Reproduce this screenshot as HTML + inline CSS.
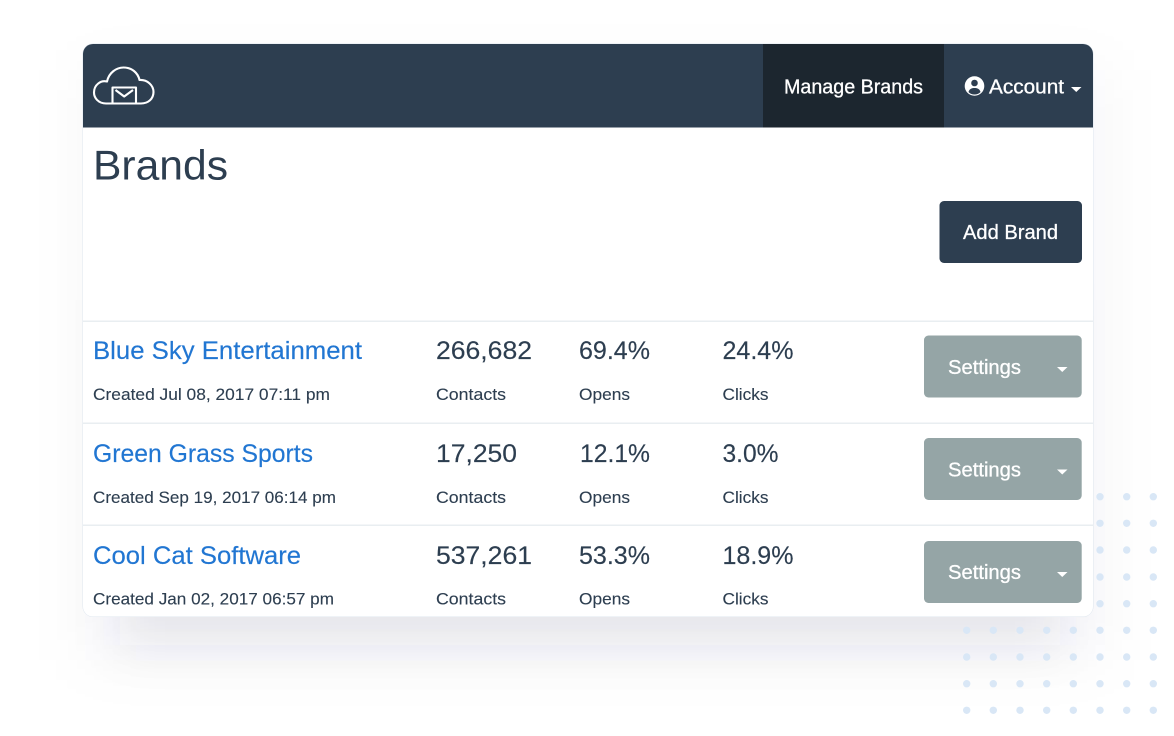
<!DOCTYPE html>
<html lang="en">
<head>
<meta charset="utf-8">
<title>Brands</title>
<style>
html,body{margin:0;padding:0;background:#fff;width:1174px;height:736px;overflow:hidden}
svg{display:block}
text{font-family:"Liberation Sans",sans-serif}
.name{font-size:25px;fill:#2176d2;stroke:#2176d2;stroke-width:.15px}
.num{font-size:25px;fill:#2d3e50;stroke:#2d3e50;stroke-width:.15px}
.sub{font-size:17px;fill:#2d3e50;stroke:#2d3e50;stroke-width:.12px}
.nav{font-size:20px;fill:#fff;stroke:#fff;stroke-width:.3px}
.set{font-size:20px;fill:#fff;stroke:#fff;stroke-width:.3px}
</style>
</head>
<body>
<svg id="stage" xmlns="http://www.w3.org/2000/svg" width="1174" height="736" viewBox="0 0 1174 736">
  <defs>
    <filter id="soft" filterUnits="userSpaceOnUse" x="0" y="0" width="1174" height="736"><feGaussianBlur stdDeviation="24"/></filter>
    <filter id="softwide" filterUnits="userSpaceOnUse" x="0" y="0" width="1174" height="736"><feGaussianBlur stdDeviation="30"/></filter>
    <clipPath id="cardclip"><rect x="83" y="44" width="1010" height="572.500" rx="10"/></clipPath>
  </defs>
  <rect x="85" y="70" width="1020" height="590" fill="#2d3e50" fill-opacity="0.035" filter="url(#softwide)"/>
  <rect x="120" y="300" width="940" height="345" fill="#2d3e50" fill-opacity="0.09" filter="url(#soft)"/>
  <g id="dots"></g>

  <g>
    <rect x="82.500" y="43.500" width="1011" height="573.500" rx="10.500" fill="#dfe7ef"/>
    <g clip-path="url(#cardclip)">
      <rect x="83" y="44" width="1010" height="573" fill="#fff"/>
      <rect x="83" y="44" width="1010" height="83.500" fill="#2d3e50"/>
      <rect x="763" y="44" width="181" height="83.500" fill="#1c262f"/>
      <rect x="83" y="320.500" width="1010" height="1.500" fill="#e9eef1"/>
      <rect x="83" y="422.500" width="1010" height="1.500" fill="#e9eef1"/>
      <rect x="83" y="524.500" width="1010" height="1.500" fill="#e9eef1"/>
    </g>
  </g>

  <g fill="none" stroke="#fff" stroke-width="2.100" stroke-linejoin="round">
    <path d="M106 103.500C98.500 103.500 94 98 94 92.500C94 85 100.500 80 107 81.500C109 72.500 116.500 67.500 123.500 67.500C132 67.500 138 73 139.500 80C147.500 79.500 153.500 85.500 153.500 92C153.500 99 148 103.500 141 103.500Z"/>
    <path d="M112.500 103V87.500H136V103"/>
    <path d="M115.500 90L124.200 96.500L133 90" stroke-width="2.200"/>
  </g>

  <text class="nav" x="784" y="93.500" textLength="139" lengthAdjust="spacingAndGlyphs">Manage Brands</text>
  <g>
    <circle cx="974.500" cy="86" r="9.800" fill="#fff"/>
    <circle cx="974.500" cy="83" r="3.300" fill="#2d3e50"/>
    <path d="M968.500 92C969.500 88.500 972 88 974.500 88C977 88 979.500 88.500 980.500 92C979 93.800 977 94.500 974.500 94.500C972 94.500 970 93.800 968.500 92Z" fill="#2d3e50"/>
  </g>
  <text class="nav" x="989" y="93.500" textLength="75" lengthAdjust="spacingAndGlyphs">Account</text>
  <path d="M1071 87H1081.500L1076.250 92Z" fill="#fff"/>

  <text x="93" y="179.500" font-size="42" fill="#2d3e50" textLength="135" lengthAdjust="spacingAndGlyphs">Brands</text>

  <g>
    <rect x="939.500" y="201" width="142.500" height="62" rx="4.500" fill="#2d3e50"/>
    <text class="nav" x="963" y="239" textLength="95" lengthAdjust="spacingAndGlyphs">Add Brand</text>
  </g>

  <g>
    <text class="name" x="93" y="359" textLength="269" lengthAdjust="spacingAndGlyphs">Blue Sky Entertainment</text>
    <text class="sub" x="93" y="400" textLength="237" lengthAdjust="spacingAndGlyphs">Created Jul 08, 2017 07:11 pm</text>
    <text class="num" x="436" y="359" textLength="96" lengthAdjust="spacingAndGlyphs">266,682</text>
    <text class="sub" x="436" y="400" textLength="70" lengthAdjust="spacingAndGlyphs">Contacts</text>
    <text class="num" x="579" y="359" textLength="71" lengthAdjust="spacingAndGlyphs">69.4%</text>
    <text class="sub" x="579" y="400" textLength="51" lengthAdjust="spacingAndGlyphs">Opens</text>
    <text class="num" x="722.500" y="359" textLength="71" lengthAdjust="spacingAndGlyphs">24.4%</text>
    <text class="sub" x="722.500" y="400" textLength="46" lengthAdjust="spacingAndGlyphs">Clicks</text>
    <g>
      <rect x="924" y="335.500" width="157.700" height="62" rx="4.500" fill="#95a5a6"/>
      <text class="set" x="948" y="374" textLength="73" lengthAdjust="spacingAndGlyphs">Settings</text>
      <path d="M1057 367H1067.500L1062.250 372Z" fill="#fff"/>
    </g>
  </g>

  <g>
    <text class="name" x="93" y="462" textLength="220" lengthAdjust="spacingAndGlyphs">Green Grass Sports</text>
    <text class="sub" x="93" y="503" textLength="243" lengthAdjust="spacingAndGlyphs">Created Sep 19, 2017 06:14 pm</text>
    <text class="num" x="436" y="462" textLength="81" lengthAdjust="spacingAndGlyphs">17,250</text>
    <text class="sub" x="436" y="503" textLength="70" lengthAdjust="spacingAndGlyphs">Contacts</text>
    <text class="num" x="580" y="462" textLength="70" lengthAdjust="spacingAndGlyphs">12.1%</text>
    <text class="sub" x="579" y="503" textLength="51" lengthAdjust="spacingAndGlyphs">Opens</text>
    <text class="num" x="722.500" y="462" textLength="56" lengthAdjust="spacingAndGlyphs">3.0%</text>
    <text class="sub" x="722.500" y="503" textLength="46" lengthAdjust="spacingAndGlyphs">Clicks</text>
    <g>
      <rect x="924" y="438" width="157.700" height="62" rx="4.500" fill="#95a5a6"/>
      <text class="set" x="948" y="476.500" textLength="73" lengthAdjust="spacingAndGlyphs">Settings</text>
      <path d="M1057 469.500H1067.500L1062.250 474.500Z" fill="#fff"/>
    </g>
  </g>

  <g>
    <text class="name" x="93" y="564" textLength="208" lengthAdjust="spacingAndGlyphs">Cool Cat Software</text>
    <text class="sub" x="93" y="604.500" textLength="241" lengthAdjust="spacingAndGlyphs">Created Jan 02, 2017 06:57 pm</text>
    <text class="num" x="436" y="564" textLength="96" lengthAdjust="spacingAndGlyphs">537,261</text>
    <text class="sub" x="436" y="604.500" textLength="70" lengthAdjust="spacingAndGlyphs">Contacts</text>
    <text class="num" x="579" y="564" textLength="71" lengthAdjust="spacingAndGlyphs">53.3%</text>
    <text class="sub" x="579" y="604.500" textLength="51" lengthAdjust="spacingAndGlyphs">Opens</text>
    <text class="num" x="722.500" y="564" textLength="71" lengthAdjust="spacingAndGlyphs">18.9%</text>
    <text class="sub" x="722.500" y="604.500" textLength="46" lengthAdjust="spacingAndGlyphs">Clicks</text>
    <g>
      <rect x="924" y="541" width="157.700" height="62" rx="4.500" fill="#95a5a6"/>
      <text class="set" x="948" y="579" textLength="73" lengthAdjust="spacingAndGlyphs">Settings</text>
      <path d="M1057 572H1067.500L1062.250 577Z" fill="#fff"/>
    </g>
  </g>
</svg>
<script>
var dotColumns = [966.7, 993.3, 1020, 1046.7, 1073.3, 1100, 1126.7, 1153.3];
var dotRows = [496.7, 523.3, 550, 577, 603.7, 630.3, 657, 683.7, 710.3];
var dotGroup = document.getElementById('dots');
dotRows.forEach(function (y) {
  dotColumns.forEach(function (x) {
    var c = document.createElementNS('http://www.w3.org/2000/svg', 'circle');
    c.setAttribute('cx', x);
    c.setAttribute('cy', y);
    c.setAttribute('r', '3.7');
    c.setAttribute('fill', '#d9e7f6');
    
    
    dotGroup.appendChild(c);
  });
});
</script>
</body>
</html>
